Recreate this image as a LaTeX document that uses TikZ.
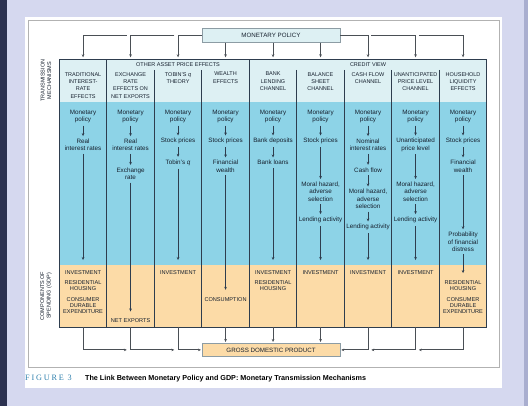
\documentclass[tikz,border=0pt]{standalone}
\usepackage{fontspec}
\setmainfont{Liberation Sans}
\newfontfamily\figfont[LetterSpace=22]{Liberation Serif}
\usetikzlibrary{arrows.meta}
\definecolor{bgl}{HTML}{D5D8EF}
\definecolor{navy}{HTML}{2B3150}
\definecolor{bgr}{HTML}{A9AECF}
\definecolor{hdr}{HTML}{DDF0F3}
\definecolor{blu}{HTML}{8DD3E7}
\definecolor{org}{HTML}{FCDBA7}
\definecolor{ink}{HTML}{16202E}
\definecolor{rule}{HTML}{2E3D4E}
\definecolor{connc}{HTML}{4A4F55}
\definecolor{boxb}{HTML}{8C9CA4}
\definecolor{tealc}{HTML}{2F80AE}
\begin{document}
\begin{tikzpicture}[x=1pt,y=-1pt,
  bodytxt/.style={font=\fontsize{6.3}{7.3}\selectfont, text=ink, align=center, inner sep=1.2pt},
  headtxt/.style={font=\fontsize{5.5}{7.33}\selectfont, text=ink, align=center, inner sep=0pt, anchor=north},
  spendtxt/.style={font=\fontsize{5.6}{6.4}\selectfont, text=ink, align=center, inner sep=0pt},
  sidetxt/.style={font=\fontsize{5.5}{6.6}\selectfont, text=ink, align=center, inner sep=0pt, rotate=90},
  flowarr/.style={draw=rule, line width=0.7pt, -{Stealth[length=3pt,width=2.6pt]}, shorten <=1.5pt, shorten >=1.5pt},
  connarr/.style={draw=connc, line width=0.8pt, -{Stealth[length=3pt,width=2.6pt]}},
  topbox/.style={draw=boxb, line width=0.6pt, inner sep=0pt, font=\fontsize{6.2}{7}\selectfont, text=ink}
]
\useasboundingbox (0,0) rectangle (528,406);
% background
\fill[bgl] (0,0) rectangle (528,406);
\fill[navy] (0,0) rectangle (7,406);
\fill[bgr] (524,0) rectangle (528,406);
\fill[white] (25,17) rectangle (502,388);
\draw[gray!60, line width=0.8pt] (28,20) rectangle (499.5,367.3);

% table fills
\fill[hdr] (59.3,59.3) rectangle (486.8,101.7);
\fill[blu] (59.3,101.7) rectangle (486.8,265);
\fill[org] (59.3,265) rectangle (486.8,327);
\foreach \x in {106.8,249.3} \draw[rule, line width=0.8pt] (\x,59.3) -- (\x,327);
\foreach \x in {154.3,201.8,296.8,344.3,391.8,439.3} \draw[rule, line width=0.8pt] (\x,70) -- (\x,327);
\draw[rule, line width=0.9pt] (59.3,59.3) rectangle (486.8,327);

% side labels
\node[sidetxt] (lt) at (46,80.5) {TRANSMISSION\\MECHANISMS};
\node[sidetxt] (lc) at (46,296) {COMPONENTS OF\\SPENDING (GDP)};

% group labels
\node[headtxt] (g1) at (178.05,62.2) {OTHER ASSET PRICE EFFECTS};
\node[headtxt] (g2) at (368.05,62.2) {CREDIT VIEW};

% headers
\node[headtxt] (h1) at (83.05,72) {TRADITIONAL\\INTEREST-\\RATE\\EFFECTS};
\node[headtxt] (h2) at (130.55,72) {EXCHANGE\\RATE\\EFFECTS ON\\NET EXPORTS};
\node[headtxt] (h3) at (178.05,72) {TOBIN’S \textit{q}\\THEORY};
\node[headtxt] (h4) at (225.55,72) {WEALTH\\EFFECTS};
\node[headtxt] (h5) at (273.05,72) {BANK\\LENDING\\CHANNEL};
\node[headtxt] (h6) at (320.55,72) {BALANCE\\SHEET\\CHANNEL};
\node[headtxt] (h7) at (368.05,72) {CASH FLOW\\CHANNEL};
\node[headtxt] (h8) at (415.55,72) {UNANTICIPATED\\PRICE LEVEL\\CHANNEL};
\node[headtxt] (h9) at (463.05,72) {HOUSEHOLD\\LIQUIDITY\\EFFECTS};

% column 1
\node[bodytxt] (c1a) at (83.05,116.3) {Monetary\\policy};
\node[bodytxt] (c1b) at (83.05,145) {Real\\interest rates};
\node[spendtxt] (c1i) at (83.05,272.7) {INVESTMENT};
\node[spendtxt] (c1r) at (83.05,285.5) {RESIDENTIAL\\HOUSING};
\node[spendtxt] (c1c) at (83.05,305.5) {CONSUMER\\DURABLE\\EXPENDITURE};
\draw[flowarr] (c1a) -- (c1b);
\draw[flowarr, shorten >=10.5pt] (c1b) -- (c1i);

% column 2
\node[bodytxt] (c2a) at (130.55,116.3) {Monetary\\policy};
\node[bodytxt] (c2b) at (130.55,145) {Real\\interest rates};
\node[bodytxt] (c2c) at (130.55,173.8) {Exchange\\rate};
\node[spendtxt] (c2n) at (130.55,320.7) {NET EXPORTS};
\draw[flowarr] (c2a) -- (c2b);
\draw[flowarr] (c2b) -- (c2c);
\draw[flowarr, shorten >=7pt] (c2c) -- (c2n);

% column 3
\node[bodytxt] (c3a) at (178.05,116.3) {Monetary\\policy};
\node[bodytxt] (c3b) at (178.05,141.3) {Stock prices};
\node[bodytxt] (c3c) at (178.05,162.7) {Tobin’s \textit{q}};
\node[spendtxt] (c3i) at (178.05,272.7) {INVESTMENT};
\draw[flowarr] (c3a) -- (c3b);
\draw[flowarr] (c3b) -- (c3c);
\draw[flowarr, shorten >=10.5pt] (c3c) -- (c3i);

% column 4
\node[bodytxt] (c4a) at (225.55,116.3) {Monetary\\policy};
\node[bodytxt] (c4b) at (225.55,141.3) {Stock prices};
\node[bodytxt] (c4c) at (225.55,166.3) {Financial\\wealth};
\node[spendtxt] (c4s) at (225.55,300) {CONSUMPTION};
\draw[flowarr] (c4a) -- (c4b);
\draw[flowarr] (c4b) -- (c4c);
\draw[flowarr, shorten >=8pt] (c4c) -- (c4s);

% column 5
\node[bodytxt] (c5a) at (273.05,116.3) {Monetary\\policy};
\node[bodytxt] (c5b) at (273.05,141.3) {Bank deposits};
\node[bodytxt] (c5c) at (273.05,162.7) {Bank loans};
\node[spendtxt] (c5i) at (273.05,272.7) {INVESTMENT};
\node[spendtxt] (c5r) at (273.05,285.5) {RESIDENTIAL\\HOUSING};
\draw[flowarr] (c5a) -- (c5b);
\draw[flowarr] (c5b) -- (c5c);
\draw[flowarr, shorten >=10.5pt] (c5c) -- (c5i);

% column 6
\node[bodytxt] (c6a) at (320.55,116.3) {Monetary\\policy};
\node[bodytxt] (c6b) at (320.55,141.3) {Stock prices};
\node[bodytxt] (c6c) at (320.55,191.5) {Moral hazard,\\adverse\\selection};
\node[bodytxt] (c6d) at (320.55,220) {Lending activity};
\node[spendtxt] (c6i) at (320.55,272.7) {INVESTMENT};
\draw[flowarr] (c6a) -- (c6b);
\draw[flowarr] (c6b) -- (c6c);
\draw[flowarr] (c6c) -- (c6d);
\draw[flowarr, shorten >=10.5pt] (c6d) -- (c6i);

% column 7
\node[bodytxt] (c7a) at (368.05,116.3) {Monetary\\policy};
\node[bodytxt] (c7b) at (368.05,145) {Nominal\\interest rates};
\node[bodytxt] (c7c) at (368.05,170) {Cash flow};
\node[bodytxt] (c7d) at (368.05,199) {Moral hazard,\\adverse\\selection};
\node[bodytxt] (c7e) at (368.05,227.3) {Lending activity};
\node[spendtxt] (c7i) at (368.05,272.7) {INVESTMENT};
\draw[flowarr] (c7a) -- (c7b);
\draw[flowarr] (c7b) -- (c7c);
\draw[flowarr] (c7c) -- (c7d);
\draw[flowarr] (c7d) -- (c7e);
\draw[flowarr, shorten >=10.5pt] (c7e) -- (c7i);

% column 8
\node[bodytxt] (c8a) at (415.55,116.3) {Monetary\\policy};
\node[bodytxt] (c8b) at (415.55,145) {Unanticipated\\price level};
\node[bodytxt] (c8c) at (415.55,191.5) {Moral hazard,\\adverse\\selection};
\node[bodytxt] (c8d) at (415.55,220) {Lending activity};
\node[spendtxt] (c8i) at (415.55,272.7) {INVESTMENT};
\draw[flowarr] (c8a) -- (c8b);
\draw[flowarr] (c8b) -- (c8c);
\draw[flowarr] (c8c) -- (c8d);
\draw[flowarr, shorten >=10.5pt] (c8d) -- (c8i);

% column 9
\node[bodytxt] (c9a) at (463.05,116.3) {Monetary\\policy};
\node[bodytxt] (c9b) at (463.05,141.3) {Stock prices};
\node[bodytxt] (c9c) at (463.05,166.3) {Financial\\wealth};
\node[bodytxt] (c9d) at (463.05,241.8) {Probability\\of financial\\distress};
\node[spendtxt] (c9r) at (463.05,285.5) {RESIDENTIAL\\HOUSING};
\node[spendtxt] (c9e) at (463.05,305.5) {CONSUMER\\DURABLE\\EXPENDITURE};
\draw[flowarr] (c9a) -- (c9b);
\draw[flowarr] (c9b) -- (c9c);
\draw[flowarr] (c9c) -- (c9d);
\draw[flowarr, shorten >=7pt] (c9d) -- (c9r);

% top and bottom boxes
\node[topbox, fill=hdr, minimum width=138.2pt, minimum height=14pt] (mp) at (270.9,35.3) {MONETARY POLICY};
\node[topbox, fill=org, minimum width=137.7pt, minimum height=13.2pt] (gdp) at (271.1,349.9) {GROSS DOMESTIC PRODUCT};

% connector coordinates
\foreach \i/\x in {1/83.05,2/130.55,3/178.05,4/225.55,5/273.05,6/320.55,7/368.05,8/415.55,9/463.05}{
  \coordinate (top\i) at (\x,59.3);
  \coordinate (bot\i) at (\x,327);
}
\coordinate (t1) at (126.8,35.3);
\coordinate (t2) at (174.3,35.3);
\coordinate (t8) at (371.3,35.3);
\coordinate (t9) at (418.8,35.3);
\coordinate (b1) at (126.8,349.9);
\coordinate (b2) at (174.3,349.9);
\coordinate (b8) at (371.3,349.9);
\coordinate (b9) at (418.8,349.9);

% top connectors
\draw[connarr, shorten >=2pt] (t1) -| (top1);
\draw[connarr, shorten >=2pt] (t2) -| (top2);
\draw[connarr, shorten >=2pt] (mp.west) -| (top3);
\draw[connarr, shorten >=2pt] (mp.south -| top4) -- (top4);
\draw[connarr, shorten >=2pt] (mp.south -| top5) -- (top5);
\draw[connarr, shorten >=2pt] (mp.south -| top6) -- (top6);
\draw[connarr, shorten >=2pt] (mp.east) -| (top7);
\draw[connarr, shorten >=2pt] (t8) -| (top8);
\draw[connarr, shorten >=2pt] (t9) -| (top9);

% bottom connectors
\draw[connarr] (bot1) |- (b1);
\draw[connarr] (bot2) |- (b2);
\draw[connarr, shorten >=1pt] (bot3) |- (gdp.west);
\draw[connarr, shorten >=1pt] (bot4) -- (gdp.north -| bot4);
\draw[connarr, shorten >=1pt] (bot5) -- (gdp.north -| bot5);
\draw[connarr, shorten >=1pt] (bot6) -- (gdp.north -| bot6);
\draw[connarr, shorten >=1pt] (bot7) |- (gdp.east);
\draw[connarr] (bot8) |- (b8);
\draw[connarr] (bot9) |- (b9);

% caption
\node[anchor=base west, inner sep=0pt, text=tealc, font=\figfont\fontsize{8.2}{9}\selectfont] (fig) at (25,381) {FIGURE 3};
\node[anchor=base west, inner sep=0pt, text=black, font=\bfseries\fontsize{7.2}{8}\selectfont] (cap) at (85,381) {The Link Between Monetary Policy and GDP: Monetary Transmission Mechanisms};
\end{tikzpicture}
\end{document}
